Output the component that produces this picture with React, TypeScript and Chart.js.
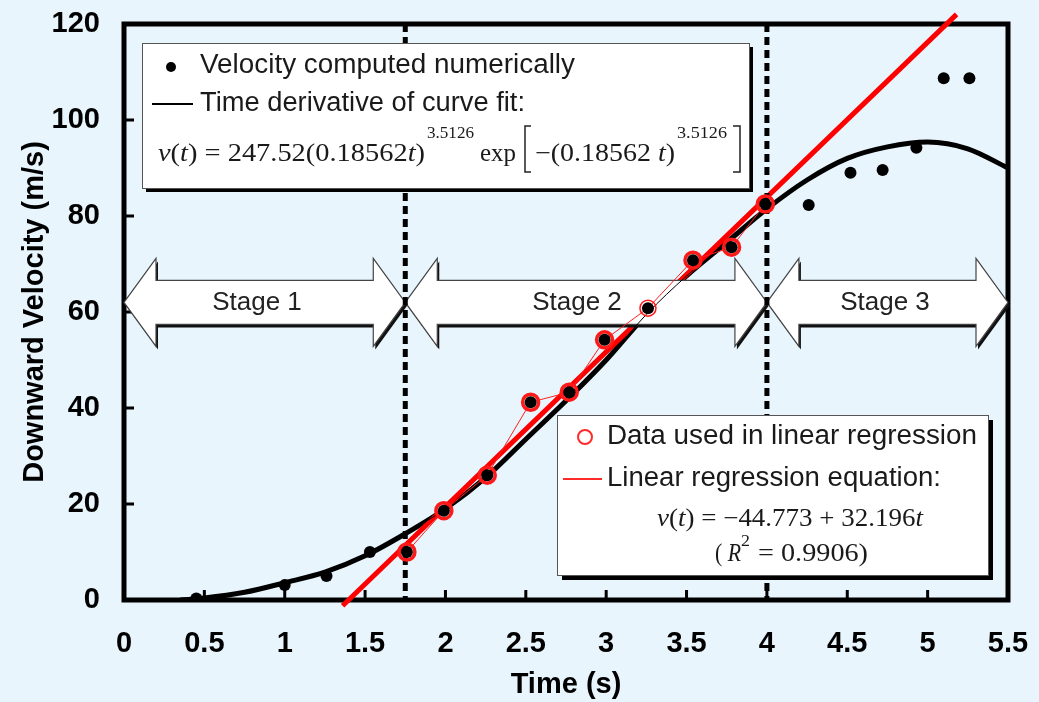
import React, { useEffect, useRef } from 'react';
import { Chart, registerables } from 'chart.js';
Chart.register(...registerables);

// ---- data ----
const numT = [0.45, 1.0, 1.26, 1.53, 1.76, 1.99, 2.26, 2.53, 2.77, 2.99, 3.26, 3.54, 3.78, 3.99, 4.26, 4.52, 4.72, 4.93, 5.10, 5.26];
const numV = [0.3, 3.1, 5.0, 10.0, 10.0, 18.6, 26.0, 41.2, 43.3, 54.2, 60.8, 70.8, 73.5, 82.5, 82.3, 89.0, 89.6, 94.2, 108.7, 108.7];

const regDataT = [1.76, 1.99, 2.26, 2.53, 2.77, 2.99, 3.26, 3.54, 3.78, 3.99];
const regDataV = [10.0, 18.6, 26.0, 41.2, 43.3, 54.2, 60.8, 70.8, 73.5, 82.5];

const fitT = [0.35, 0.5, 0.75, 1.0, 1.25, 1.5, 1.75, 2.0, 2.25, 2.5, 2.75, 3.0, 3.25, 3.5, 3.75, 4.0, 4.25, 4.5, 4.75, 5.0, 5.25, 5.5];
const fitV = [0.0, 0.4, 1.6, 3.6, 5.8, 9.2, 13.8, 19.0, 25.5, 33.5, 41.5, 50.0, 59.5, 67.5, 74.5, 81.5, 87.5, 92.0, 94.4, 95.4, 94.0, 90.0];

const regLineT = [1.36, 5.18];
const regLineV = [-1.2, 122.0];

const stageLabels = ['Stage 1', 'Stage 2', 'Stage 3'];
const stageBounds = [0, 1.75, 4, 5.5];
const stageLevel = 62;
const stageDividers = [1.75, 4];

const xTicks = [0.5, 1, 1.5, 2, 2.5, 3, 3.5, 4, 4.5, 5, 5.5];
const yTicks = [20, 40, 60, 80, 100];

const BG = '#E8F5FD';
const SANS = '"Liberation Sans", Arial, sans-serif';
const SERIF = '"Liberation Serif", "Times New Roman", serif';

const pts = (xs: number[], ys: number[]) => xs.map((x, i) => ({ x, y: ys[i] }));

type Run = [string, string];
function runsWidth(ctx: CanvasRenderingContext2D, runs: Run[]) {
  let w = 0;
  for (const [t, f] of runs) { ctx.font = f; w += ctx.measureText(t).width; }
  return w;
}
function drawRuns(ctx: CanvasRenderingContext2D, runs: Run[], x: number, y: number, target?: number) {
  const w = runsWidth(ctx, runs);
  const sx = target ? target / w : 1;
  ctx.save();
  ctx.translate(x, y);
  ctx.scale(sx, 1);
  let cx = 0;
  for (const [t, f] of runs) { ctx.font = f; ctx.fillText(t, cx, 0); cx += ctx.measureText(t).width; }
  ctx.restore();
}
function arrowPath(ctx: CanvasRenderingContext2D, x0: number, x1: number, yc: number, hh: number, bh: number, hl: number) {
  ctx.beginPath();
  ctx.moveTo(x0, yc);
  ctx.lineTo(x0 + hl, yc - hh);
  ctx.lineTo(x0 + hl, yc - bh);
  ctx.lineTo(x1 - hl, yc - bh);
  ctx.lineTo(x1 - hl, yc - hh);
  ctx.lineTo(x1, yc);
  ctx.lineTo(x1 - hl, yc + hh);
  ctx.lineTo(x1 - hl, yc + bh);
  ctx.lineTo(x0 + hl, yc + bh);
  ctx.lineTo(x0 + hl, yc + hh);
  ctx.closePath();
}
function box(ctx: CanvasRenderingContext2D, x: number, y: number, w: number, h: number, sh: number) {
  ctx.fillStyle = '#000';
  ctx.fillRect(x + sh, y + sh, w, h);
  ctx.fillStyle = '#fff';
  ctx.fillRect(x, y, w, h);
  ctx.strokeStyle = '#555';
  ctx.lineWidth = 1;
  ctx.strokeRect(x + 0.5, y + 0.5, w, h);
}

const decor = {
  id: 'decor',
  beforeDraw(chart: any) {
    const ctx = chart.ctx;
    ctx.save();
    ctx.fillStyle = BG;
    ctx.fillRect(0, 0, chart.width, chart.height);
    ctx.restore();
  },
  beforeDatasetsDraw(chart: any) {
    const { ctx, chartArea: a, scales } = chart;
    ctx.save();
    ctx.strokeStyle = '#000';
    ctx.lineWidth = 5;
    ctx.strokeRect(a.left, a.top, a.right - a.left, a.bottom - a.top);
    ctx.lineWidth = 3;
    ctx.beginPath();
    for (const v of yTicks) {
      const y = scales.y.getPixelForValue(v);
      ctx.moveTo(a.left, y); ctx.lineTo(a.left + 10, y);
    }
    for (const v of xTicks) {
      const x = scales.x.getPixelForValue(v);
      ctx.moveTo(x, a.bottom); ctx.lineTo(x, a.bottom - 10);
    }
    ctx.stroke();
    ctx.restore();
  },
  afterDatasetDraw(chart: any, args: any) {
    if (args.index !== 1) return;
    const { ctx, chartArea: a, scales } = chart;
    const yc = scales.y.getPixelForValue(stageLevel);
    const hh = 44, bh = 22, hl = 32;
    ctx.save();
    const xs = stageBounds.map((v) => scales.x.getPixelForValue(v));
    for (let i = 0; i < 3; i++) {
      ctx.save(); ctx.translate(2, 3);
      arrowPath(ctx, xs[i], xs[i + 1], yc, hh, bh, hl);
      ctx.fillStyle = '#111'; ctx.fill();
      ctx.restore();
    }
    for (let i = 0; i < 3; i++) {
      arrowPath(ctx, xs[i], xs[i + 1], yc, hh, bh, hl);
      ctx.fillStyle = '#fff'; ctx.fill();
    }
    for (let i = 0; i < 3; i++) {
      arrowPath(ctx, xs[i], xs[i + 1], yc, hh, bh, hl);
      ctx.strokeStyle = '#444'; ctx.lineWidth = 1.2; ctx.stroke();
    }
    ctx.fillStyle = '#222';
    ctx.textBaseline = 'middle';
    ctx.textAlign = 'center';
    ctx.font = '26px ' + SANS;
    const textX = [257, 577, 885];
    stageLabels.forEach((s, i) => ctx.fillText(s, textX[i], yc));
    // dotted dividers
    ctx.strokeStyle = '#000';
    ctx.lineWidth = 5;
    ctx.setLineDash([8, 5]);
    ctx.beginPath();
    for (const v of stageDividers) {
      const x = scales.x.getPixelForValue(v);
      ctx.moveTo(x, a.top); ctx.lineTo(x, a.bottom);
    }
    ctx.stroke();
    ctx.restore();
  },
  afterDraw(chart: any) {
    const ctx = chart.ctx as CanvasRenderingContext2D;
    ctx.save();
    // ---- legend box 1 ----
    box(ctx, 142, 43, 607, 145, 4);
    ctx.fillStyle = '#000';
    ctx.beginPath(); ctx.arc(171, 67, 5, 0, Math.PI * 2); ctx.fill();
    ctx.strokeStyle = '#000'; ctx.lineWidth = 2;
    ctx.beginPath(); ctx.moveTo(152, 104); ctx.lineTo(193, 104); ctx.stroke();
    ctx.fillStyle = '#1a1a1a';
    ctx.textBaseline = 'middle';
    drawRuns(ctx, [['Velocity computed numerically', '27px ' + SANS]], 200, 66, 375);
    drawRuns(ctx, [['Time derivative of curve fit:', '27px ' + SANS]], 200, 104, 325);
    ctx.textBaseline = 'alphabetic';
    const N = '25px ' + SERIF, I = 'italic 25px ' + SERIF, S = '17px ' + SERIF;
    drawRuns(ctx, [['v', I], ['(', N], ['t', I], [') = 247.52(0.18562', N], ['t', I], [')', N]], 158, 161, 267);
    drawRuns(ctx, [['3.5126', S]], 427, 138, 47);
    drawRuns(ctx, [['exp', N]], 480, 161, 36);
    drawRuns(ctx, [['\u2212(0.18562 ', N], ['t', I], [')', N]], 535, 161, 140);
    drawRuns(ctx, [['3.5126', S]], 677, 138, 50);
    ctx.strokeStyle = '#222'; ctx.lineWidth = 1.5;
    ctx.beginPath();
    ctx.moveTo(531, 126); ctx.lineTo(525, 126); ctx.lineTo(525, 172); ctx.lineTo(531, 172);
    ctx.moveTo(733, 126); ctx.lineTo(740, 126); ctx.lineTo(740, 172); ctx.lineTo(733, 172);
    ctx.stroke();

    // ---- legend box 2 ----
    box(ctx, 557, 415, 431, 160, 5);
    ctx.strokeStyle = '#ff2a2a'; ctx.lineWidth = 2;
    ctx.beginPath(); ctx.arc(585, 437, 7, 0, Math.PI * 2); ctx.stroke();
    ctx.beginPath(); ctx.moveTo(563, 479); ctx.lineTo(602, 479); ctx.stroke();
    ctx.fillStyle = '#1a1a1a';
    ctx.textBaseline = 'middle';
    drawRuns(ctx, [['Data used in linear regression', '27px ' + SANS]], 607, 437, 370);
    drawRuns(ctx, [['Linear regression equation:', '27px ' + SANS]], 607, 479, 334);
    ctx.textBaseline = 'alphabetic';
    drawRuns(ctx, [['v', I], ['(', N], ['t', I], [') = \u221244.773 + 32.196', N], ['t', I]], 657, 526, 266);
    drawRuns(ctx, [['(', N], [' R', I]], 715, 561, 26);
    drawRuns(ctx, [['2', S]], 741, 546, 9);
    drawRuns(ctx, [[' = 0.9906)', N]], 751, 561, 117);
    ctx.restore();
  },
};

export default function App() {
  const ref = useRef<HTMLCanvasElement | null>(null);
  useEffect(() => {
    if (!ref.current) return;
    const tickFont = { family: SANS, size: 29, weight: 'bold' as const };
    const chart = new Chart(ref.current, {
      type: 'scatter',
      data: {
        datasets: [
          { data: pts(fitT, fitV), showLine: true, borderColor: '#000', borderWidth: 5, pointRadius: 0, cubicInterpolationMode: 'monotone', order: 6 } as any,
          { data: pts(regLineT, regLineV), showLine: true, borderColor: '#ff0000', borderWidth: 5, pointRadius: 0, clip: false, order: 5 } as any,
          { data: pts(fitT, fitV), showLine: true, borderColor: '#000', borderWidth: 1, pointRadius: 0, cubicInterpolationMode: 'monotone', order: 4 } as any,
          { data: pts(regDataT, regDataV), showLine: true, borderColor: '#ff2020', borderWidth: 1, pointRadius: 8, pointBorderColor: '#ff1a1a', pointBackgroundColor: 'rgba(0,0,0,0)', pointBorderWidth: (c: any) => (c.dataIndex === 6 ? 1.5 : 3.5), order: 3 } as any,
          { data: pts(numT, numV), showLine: false, pointRadius: 6, pointBackgroundColor: '#000', pointBorderColor: '#000', pointBorderWidth: 0, order: 1 } as any,
        ],
      },
      options: {
        animation: false,
        responsive: true,
        maintainAspectRatio: false,
        devicePixelRatio: 1,
        layout: { padding: { left: 0, right: 31, top: 24, bottom: 0 } },
        plugins: { legend: { display: false }, tooltip: { enabled: false } },
        scales: {
          x: {
            type: 'linear', min: 0, max: 5.5,
            grid: { display: false, drawTicks: false },
            border: { display: false },
            ticks: { stepSize: 0.5, color: '#000', font: tickFont, padding: 27, maxRotation: 0, autoSkip: false, callback: (v: any) => String(Number(v)) },
            title: { display: true, text: 'Time (s)', color: '#000', font: tickFont, padding: { top: 0, bottom: 0 } },
            afterFit: (s: any) => { s.height = 102; s.paddingLeft = 0; s.paddingRight = 0; },
          },
          y: {
            type: 'linear', min: 0, max: 120,
            grid: { display: false, drawTicks: false },
            border: { display: false },
            ticks: { stepSize: 20, color: '#000', font: tickFont, padding: 24 },
            title: { display: true, text: 'Downward Velocity (m/s)', color: '#000', font: tickFont, padding: { top: 18, bottom: 0 } },
            afterFit: (s: any) => { s.width = 124; s.paddingTop = 0; s.paddingBottom = 0; },
          },
        },
      },
      plugins: [decor],
    } as any);
    return () => chart.destroy();
  }, []);
  return (
    <div style={{ position: 'absolute', left: 0, top: 0, width: 1039, height: 702, background: BG }}>
      <canvas ref={ref} />
    </div>
  );
}
